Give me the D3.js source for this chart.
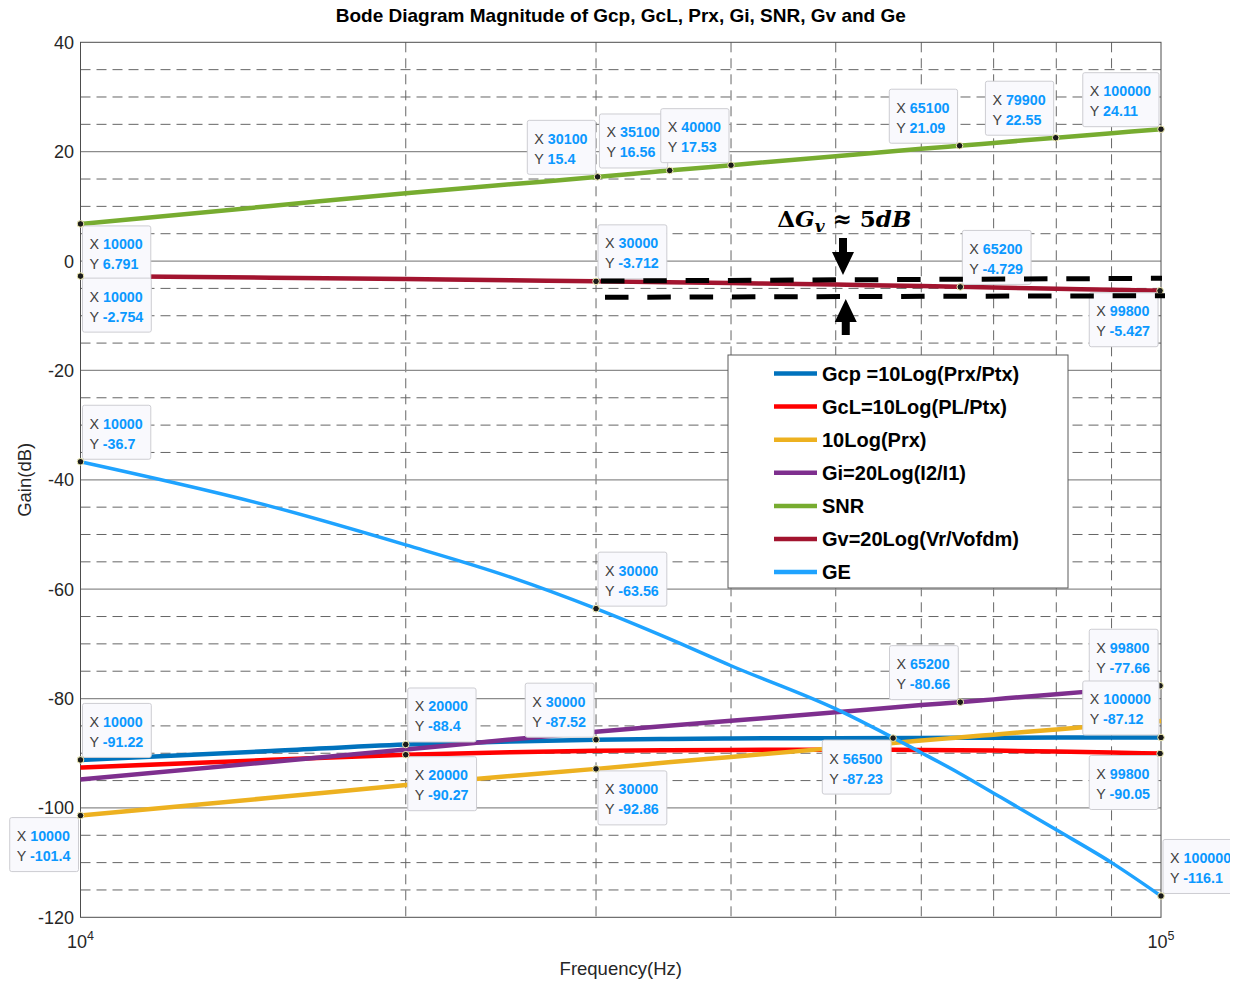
<!DOCTYPE html>
<html><head><meta charset="utf-8">
<script src="https://cdn.jsdelivr.net/npm/d3@7"></script>
<style>
body{margin:0;background:#fff}
svg{display:block}
text{font-family:"Liberation Sans",Arial,Helvetica,sans-serif}
</style>
</head><body>
<svg id="chart" width="1243" height="984"></svg>
<script>
// ---------------- data ----------------
const freqs = [10000,15000,20000,25000,30000,35000,40000,50000,60000,65000,70000,80000,90000,100000];
const seriesKeys  = ["Gcp","GcL","Prx","Gi","SNR","Gv","GE"];
const seriesNames = ["Gcp =10Log(Prx/Ptx)","GcL=10Log(PL/Ptx)","10Log(Prx)","Gi=20Log(I2/I1)","SNR","Gv=20Log(Vr/Vofdm)","GE"];
const gcp = [-91.22,-89.6,-88.4,-87.85,-87.52,-87.38,-87.3,-87.24,-87.2,-87.18,-87.16,-87.14,-87.13,-87.12];
const gcl = [-92.6,-91.2,-90.27,-89.8,-89.55,-89.45,-89.4,-89.35,-89.4,-89.45,-89.5,-89.7,-89.87,-90.05];
const prx = [-101.4,-98.15,-95.8,-94.17,-92.86,-91.66,-90.67,-89.02,-87.68,-87.12,-86.6,-85.64,-84.82,-84.09];
const gi  = [-94.8,-91.6,-89.3,-87.5,-86.06,-84.99,-84.06,-82.5,-81.2,-80.68,-80.15,-79.2,-78.38,-77.64];
const snr = [6.791,10.06,12.4,14.03,15.35,16.54,17.53,19.18,20.52,21.08,21.6,22.56,23.38,24.11];
const gv  = [-2.754,-3.05,-3.3,-3.52,-3.712,-3.88,-4.03,-4.31,-4.57,-4.72,-4.85,-5.07,-5.26,-5.43];
const ge  = [-36.7,-44.85,-51.9,-57.8,-63.56,-69.0,-74.0,-81.9,-89.9,-93.6,-97.3,-104.0,-110.0,-116.1];
const seriesValues = [gcp,gcl,prx,gi,snr,gv,ge];

const yTicks = [-120,-100,-80,-60,-40,-20,0,20,40];
const xTickExponents = [4,5];

// data tips: series, X, Y
const tipSeries = ["SNR","Gv","SNR","SNR","SNR","Gv","SNR","SNR","SNR","Gv","Gv","GE","GE","Gi","Gi","Gcp","GE","GcL","GE","Gcp","Prx","Gcp","GcL","Gcp","Prx"];
const tipX = [10000,10000,30100,35100,40000,30000,65100,79900,100000,65200,99800,10000,30000,65200,99800,100000,56500,99800,100000,10000,10000,20000,20000,30000,30000];
const tipY = [6.791,-2.754,15.4,16.56,17.53,-3.712,21.09,22.55,24.11,-4.729,-5.427,-36.7,-63.56,-80.66,-77.66,-87.12,-87.23,-90.05,-116.1,-91.22,-101.4,-88.4,-90.27,-87.52,-92.86];

// ---------------- layout / style ----------------
const tipAnchor = ["se","se","nw","nw","nw","ne","nw","nw","nw","ne","sw","ne","ne","nw","nw","nw","sw","sw","ne","ne","sw","ne","se","nw","se"];
const colors = {Gcp:"#0072BD",GcL:"#FF0000",Prx:"#EDB120",Gi:"#7E2F8E",SNR:"#77AC30",Gv:"#A2142F",GE:"#1FA3FF"};
const widths = {Gcp:4.5,GcL:4.5,Prx:4.5,Gi:4.5,SNR:4.5,Gv:4.5,GE:3.5};

const L = 80.5, R = 1161, T = 42.3, B = 917.3;
const svg = d3.select("#chart");
const x = d3.scaleLog().domain([1e4,1e5]).range([L,R]);
const y = d3.scaleLinear().domain([-120,40]).range([B,T]);

// grid
const g = svg.append("g");
const minorY = d3.range(-120,41,5).filter(v => v % 20 !== 0);
g.selectAll(".mh").data(minorY).enter().append("line")
  .attr("x1",L).attr("x2",R).attr("y1",d=>y(d)).attr("y2",d=>y(d))
  .attr("stroke","#666").attr("stroke-width",1).attr("stroke-dasharray","10,6");
const minorX = d3.range(2,10).map(k => k*1e4);
g.selectAll(".mv").data(minorX).enter().append("line")
  .attr("x1",d=>x(d)).attr("x2",d=>x(d)).attr("y1",T).attr("y2",B)
  .attr("stroke","#666").attr("stroke-width",1).attr("stroke-dasharray","10,6");
g.selectAll(".mj").data(yTicks.filter(v => v>-120 && v<40)).enter().append("line")
  .attr("x1",L).attr("x2",R).attr("y1",d=>y(d)).attr("y2",d=>y(d))
  .attr("stroke","#8c8c8c").attr("stroke-width",1.3);

// axis box
svg.append("rect").attr("x",L).attr("y",T).attr("width",R-L).attr("height",B-T)
  .attr("fill","none").attr("stroke","#4d4d4d").attr("stroke-width",1);

// tick labels
svg.selectAll(".yt").data(yTicks).enter().append("text")
  .attr("x",74).attr("y",d=>y(d)+6.5).attr("text-anchor","end")
  .attr("font-size",18).attr("fill","#262626").text(d=>d);
const xt = svg.selectAll(".xt").data(xTickExponents).enter().append("text")
  .attr("x",d=>x(Math.pow(10,d))).attr("y",947.5).attr("text-anchor","middle")
  .attr("font-size",18).attr("fill","#262626");
xt.append("tspan").text("10");
xt.append("tspan").attr("dy",-8).attr("font-size",12.5).text(d=>d);

// axis labels & title
svg.append("text").attr("x",(L+R)/2).attr("y",975).attr("text-anchor","middle")
  .attr("font-size",18.5).attr("fill","#262626").text("Frequency(Hz)");
svg.append("text").attr("transform",`translate(31,${(T+B)/2}) rotate(-90)`).attr("text-anchor","middle")
  .attr("font-size",18.5).attr("fill","#262626").text("Gain(dB)");
svg.append("text").attr("x",(L+R)/2).attr("y",21.5).attr("text-anchor","middle")
  .attr("font-size",19).attr("font-weight","bold").attr("fill","#000")
  .text("Bode Diagram Magnitude of Gcp, GcL, Prx, Gi, SNR, Gv and Ge");

// lines
const line = d3.line().x((d,i)=>x(freqs[i])).y(d=>y(d)).curve(d3.curveMonotoneX);
seriesKeys.forEach((k,i)=>{
  svg.append("path").datum(seriesValues[i]).attr("d",line)
    .attr("fill","none").attr("stroke",colors[k]).attr("stroke-width",widths[k])
    .attr("stroke-linejoin","round");
});

// legend
const lg = svg.append("g");
lg.append("rect").attr("x",728).attr("y",355).attr("width",340).attr("height",233)
  .attr("fill","#fff").attr("stroke","#5a5a5a").attr("stroke-width",1);
seriesKeys.forEach((k,i)=>{
  const cy = 373.5 + i*33.1;
  lg.append("line").attr("x1",774).attr("x2",817).attr("y1",cy).attr("y2",cy)
    .attr("stroke",colors[k]).attr("stroke-width",4.5);
  lg.append("text").attr("x",822).attr("y",cy+7.2).attr("font-size",20).attr("font-weight","bold")
    .attr("fill","#000").text(seriesNames[i]);
});

// data tips
svg.append("clipPath").attr("id","tipclip").append("rect").attr("x",0).attr("y",0).attr("width",1230).attr("height",984);
const tg = svg.append("g").attr("clip-path","url(#tipclip)");
tipSeries.forEach((s,i)=>{
  const px = x(tipX[i]), py = y(tipY[i]);
  const box = tg.append("g");
  const rect = box.append("rect");
  const t1 = box.append("text").attr("font-size",14.3);
  t1.append("tspan").attr("fill","#404040").text("X ");
  t1.append("tspan").attr("fill","#0B98FF").attr("font-weight","bold").text(String(tipX[i]));
  const t2 = box.append("text").attr("font-size",14.3);
  t2.append("tspan").attr("fill","#404040").text("Y ");
  t2.append("tspan").attr("fill","#0B98FF").attr("font-weight","bold").text(String(tipY[i]));
  const w = Math.max(t1.node().getComputedTextLength(), t2.node().getComputedTextLength()) + 15;
  const h = 54;
  const a = tipAnchor[i];
  const bx = a[1]==="e" ? px+2 : px-2-w;
  const by = a[0]==="s" ? py+2 : py-2.5-h;
  rect.attr("x",bx).attr("y",by).attr("width",w).attr("height",h).attr("rx",2)
    .attr("fill","#f9f9fd").attr("stroke","#cdcdd2").attr("stroke-width",1);
  t1.attr("x",bx+7).attr("y",by+23.5);
  t2.attr("x",bx+7).attr("y",by+43.5);
  tg.append("circle").attr("cx",px).attr("cy",py).attr("r",3.3)
    .attr("fill","#1a1a1a").attr("stroke","#f3efb4").attr("stroke-width",1);
});

// annotation: delta Gv
const ann = svg.append("g");
const dashLines = [
  {f1:30320,v1:-3.65,f2:100214,v2:-3.15},
  {f1:30580,v1:-6.63,f2:100856,v2:-6.33}
];
dashLines.forEach(dl=>{
  ann.append("line").attr("x1",x(dl.f1)).attr("y1",y(dl.v1)).attr("x2",x(dl.f2)).attr("y2",y(dl.v2))
    .attr("stroke","#000").attr("stroke-width",5).attr("stroke-dasharray","23.5,18.8");
});
function arrow(f, vTail, vTip){
  const ax = x(f), y0 = y(vTail), y1 = y(vTip);
  const dir = y1 > y0 ? 1 : -1;
  const hl = 23, hw = 11, sw = 4;
  const yb = y1 - dir*hl;
  ann.append("path").attr("d",
    `M${ax-sw},${y0} L${ax+sw},${y0} L${ax+sw},${yb} L${ax+hw},${yb} L${ax},${y1} L${ax-hw},${yb} L${ax-sw},${yb} Z`)
    .attr("fill","#000");
}
arrow(50780, 4.22, -2.55);
arrow(51080, -13.52, -6.94);
const at = ann.append("text").attr("x",x(44130)).attr("y",y(6.23))
  .style("font-family","'DejaVu Serif','Liberation Serif',serif").style("font-size","23px").style("font-weight","bold").attr("fill","#000");
at.append("tspan").text("\u0394");
at.append("tspan").style("font-style","italic").text("G");
at.append("tspan").style("font-style","italic").style("font-size","17px").attr("dy",5).text("v");
at.append("tspan").attr("dy",-5).text(" \u2248 5");
at.append("tspan").style("font-style","italic").text("dB");
</script>
</body></html>
